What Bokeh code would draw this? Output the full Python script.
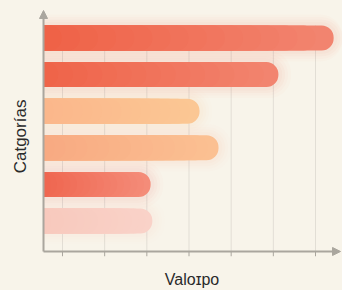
import math
from bokeh.plotting import figure
from bokeh.models import Range1d, Arrow, NormalHead, Label, GlobalInlineStyleSheet
from bokeh.embed import file_html
from bokeh.resources import INLINE

# ---- data ----
categories = ["Cat A", "Cat B", "Cat C", "Cat D", "Cat E", "Cat F"]
values = [74.3, 61.2, 42.5, 47.0, 30.9, 31.3]
start_colors = ["#ef6247", "#ef6449", "#fbb78b", "#f8aa82", "#ef6650", "#f8c9bd"]
end_colors = ["#f2846f", "#f2846f", "#fbc794", "#fbc092", "#f48c79", "#f9d2c8"]
x_ticks = [10, 20, 30, 40, 50, 60, 70]
x_label = "Valoɪpo"
y_label = "Catgorías"

# ---- style / layout (data units) ----
BG = "#f8f4ea"
AXIS = "#aaa69e"
GRID = "#e2ded5"
TEXT = "#2a2a2a"
FONT = "Liberation Sans"
VIEW_X = (-4.70, 76.40)
VIEW_Y = (-0.899, 7.025)
X0, X_ARROW = 5.5, 75.93
Y0, Y_ARROW = 0.167, 6.752
TICK_LEN = 0.13
BAR_H = 0.683
STEPS = 16

n = len(categories)
ys = [n - i for i in range(n)]

p = figure(width=342, height=290, output_backend="svg", toolbar_location=None,
           x_range=Range1d(*VIEW_X), y_range=Range1d(*VIEW_Y),
           background_fill_color=BG, border_fill_color=BG,
           min_border=0)
p.outline_line_color = None
p.grid.grid_line_color = None
p.xaxis.visible = False
p.yaxis.visible = False
p.stylesheets = [GlobalInlineStyleSheet(css="html, body { background: #f8f4ea; }")]

# vertical grid lines (under the bars, ending at the top bar)
p.segment(x0=x_ticks, x1=x_ticks, y0=[Y0] * len(x_ticks),
          y1=[ys[0] + BAR_H / 2] * len(x_ticks), line_color=GRID, line_width=1)
# tick marks below the axis line
p.segment(x0=x_ticks, x1=x_ticks, y0=[Y0] * len(x_ticks),
          y1=[Y0 - TICK_LEN] * len(x_ticks), line_color=AXIS, line_width=1)


def hex2rgb(h):
    h = h.lstrip("#")
    return tuple(int(h[i:i + 2], 16) for i in (0, 2, 4))


def mix(c1, c2, t):
    a, b = hex2rgb(c1), hex2rgb(c2)
    return "#%02x%02x%02x" % tuple(round(a[i] + (b[i] - a[i]) * t) for i in range(3))


# soft glow behind bars
for i in range(n):
    for grow, alpha in ((0.60, 0.02), (0.46, 0.025), (0.32, 0.03), (0.18, 0.03)):
        p.hbar(y=[ys[i]], left=[X0], right=[values[i] + grow * 5], height=BAR_H + grow,
               fill_color=start_colors[i], fill_alpha=alpha, line_color=None,
               border_radius=(0, 22, 22, 0))

# gradient bars (nested rounded layers)
for i in range(n):
    length = values[i] - X0
    for k in range(STEPS):
        right = X0 + length * (STEPS - k) / STEPS
        col = mix(end_colors[i], start_colors[i], k / (STEPS - 1))
        p.hbar(y=[ys[i]], left=[X0], right=[right], height=BAR_H,
               fill_color=col, line_color=None, border_radius=(0, 12, 12, 0))

# axis lines with arrows
p.add_layout(Arrow(x_start=X0, y_start=Y0, x_end=X_ARROW, y_end=Y0,
                   line_color=AXIS, line_width=2,
                   end=NormalHead(size=8, fill_color=AXIS, line_color=AXIS)))
p.add_layout(Arrow(x_start=X0, y_start=Y0, x_end=X0, y_end=Y_ARROW,
                   line_color=AXIS, line_width=2,
                   end=NormalHead(size=8, fill_color=AXIS, line_color=AXIS)))

# axis titles
p.add_layout(Label(x=(X0 + X_ARROW) / 2, y=-0.598, text=x_label, text_font=FONT,
                   text_font_size="16px", text_color=TEXT,
                   text_align="center", text_baseline="middle"))
p.add_layout(Label(x=0.05, y=3.31, text=y_label, text_font=FONT, angle=math.pi / 2,
                   text_font_size="17px", text_color=TEXT,
                   text_align="center", text_baseline="middle"))

open("out.html", "w").write(file_html(p, INLINE))
